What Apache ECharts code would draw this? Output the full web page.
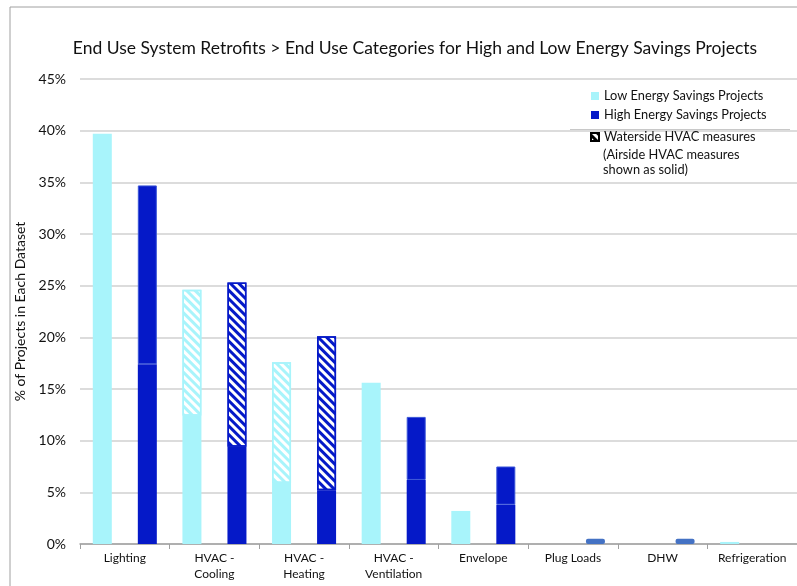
<!DOCTYPE html>
<html><head><meta charset="utf-8">
<script src="https://cdn.jsdelivr.net/npm/echarts@6/dist/echarts.min.js"></script>
<style>html,body{margin:0;padding:0;background:#fff}#c{width:797px;height:586px}</style>
</head><body><div id="c"></div>
<script>
const categories = ['Lighting', 'HVAC -\nCooling', 'HVAC -\nHeating', 'HVAC -\nVentilation', 'Envelope', 'Plug Loads', 'DHW', 'Refrigeration'];
// Low energy savings projects (%)
const lowAirside   = [39.7, 12.4, 5.9, 15.6, 3.2, 0, 0, 0.2];
const lowWaterside = [0, 12.2, 11.7, 0, 0, 0, 0, 0];
// High energy savings projects (%)
const highAirside   = [17.4, 9.4, 5.2, 6.2, 3.8, 0, 0, 0];
const highAirside2  = [17.3, 0, 0, 6.1, 3.7, 0, 0, 0];
const highWaterside = [0, 15.9, 14.9, 0, 0, 0, 0, 0];
const highMinor     = [0, 0, 0, 0, 0, 0.5, 0.5, 0];
const yTicks = [0, 5, 10, 15, 20, 25, 30, 35, 40, 45];

const LOW = '#A8F4FB', HIGH = '#0519C8', MINOR = '#4472C4';
const FONT = 'Lato';
const hatch = c => ({symbol: 'rect', color: c, dashArrayX: [1, 0], dashArrayY: [2.4, 2.4], rotation: Math.PI / 4, symbolSize: 1});
const z = v => v === 0 ? '-' : v;
const bw = 19, gap = '137%';
const legendWater = 'Waterside HVAC measures';
const legendNote = ['(Airside HVAC measures', 'shown as solid)'];

const chart = echarts.init(document.getElementById('c'), null, {renderer: 'canvas'});
chart.setOption({
  animation: false,
  title: {text: 'End Use System Retrofits > End Use Categories for High and Low Energy Savings Projects',
    left: 410, top: 34, textAlign: 'center',
    textStyle: {fontFamily: FONT, fontSize: 17.5, fontWeight: 'normal', color: '#111'}},
  graphic: [
    {type: 'rect', shape: {x: 10, y: 7, width: 800, height: 600}, style: {fill: 'none', stroke: '#a0a0a0', lineWidth: 1}, silent: true},
    {type: 'line', shape: {x1: 570, y1: 129.5, x2: 790, y2: 129.5}, style: {stroke: '#c8c8c8', lineWidth: 1}, silent: true},
    {type: 'text', left: 603, top: 147, silent: true,
      style: {text: legendNote.join('\n'), font: '12.8px ' + FONT, fill: '#111', lineHeight: 15.5}}
  ],
  legend: [
    {orient: 'vertical', left: 591, top: 89, padding: 0, itemWidth: 8, itemHeight: 8, itemGap: 5, icon: 'rect',
      textStyle: {fontFamily: FONT, fontSize: 12.8, color: '#111', lineHeight: 14},
      data: ['Low Energy Savings Projects', 'High Energy Savings Projects']},
    {orient: 'vertical', left: 590, top: 130, padding: 0, itemWidth: 8, itemHeight: 8, icon: 'rect',
      textStyle: {fontFamily: FONT, fontSize: 12.8, color: '#111', lineHeight: 14},
      data: [legendWater]}
  ],
  grid: [{left: 80, right: 0, top: 79, bottom: 42}, {left: 0, top: 0, width: 1, height: 1, show: false}],
  xAxis: [{type: 'category', data: categories, gridIndex: 0,
    axisLine: {lineStyle: {color: '#a0a0a0', width: 1.5}},
    axisTick: {show: true, length: 5, lineStyle: {color: '#a0a0a0'}},
    axisLabel: {fontFamily: FONT, fontSize: 12, color: '#111', margin: 6, lineHeight: 16, interval: 0}},
    {type: 'category', gridIndex: 1, show: false, data: ['x']}],
  yAxis: [{type: 'value', min: 0, max: 45, interval: 5, gridIndex: 0,
    name: '% of Projects in Each Dataset', nameLocation: 'middle', nameGap: 53,
    nameTextStyle: {fontFamily: FONT, fontSize: 14, color: '#111'},
    axisLine: {show: false}, axisTick: {show: false},
    axisLabel: {fontFamily: FONT, fontSize: 14, color: '#111', margin: 14,
      formatter: v => yTicks.includes(v) ? v + '%' : ''},
    splitLine: {lineStyle: {color: '#d0d0d0', width: 1.5}}},
    {type: 'value', gridIndex: 1, show: false}],
  series: [
    {name: 'Low Energy Savings Projects', type: 'bar', stack: 'low', barWidth: bw, barGap: gap,
      itemStyle: {color: LOW}, data: lowAirside.map(z)},
    {name: 'Low Waterside', type: 'bar', stack: 'low', barWidth: bw, barGap: gap,
      itemStyle: {color: '#fff', borderColor: LOW, borderWidth: 1.5, decal: hatch(LOW)}, data: lowWaterside.map(z)},
    {name: 'High Energy Savings Projects', type: 'bar', stack: 'high', barWidth: bw, barGap: gap,
      itemStyle: {color: HIGH}, data: highAirside.map(z)},
    {name: 'High Airside 2', type: 'bar', stack: 'high', barWidth: bw, barGap: gap,
      itemStyle: {color: HIGH, borderColor: '#3a55d8', borderWidth: 1}, data: highAirside2.map(z)},
    {name: 'High Waterside', type: 'bar', stack: 'high', barWidth: bw, barGap: gap,
      itemStyle: {color: '#fff', borderColor: HIGH, borderWidth: 1.5, decal: hatch(HIGH)}, data: highWaterside.map(z)},
    {name: 'High Minor', type: 'bar', stack: 'high', barWidth: bw, barGap: gap,
      itemStyle: {color: MINOR, borderRadius: 2}, data: highMinor.map(z)},
    {name: legendWater, type: 'bar', xAxisIndex: 1, yAxisIndex: 1, data: ['-'],
      itemStyle: {color: '#fff', borderColor: '#000', borderWidth: 1, decal: hatch('#000')}}
  ]
});
</script></body></html>
